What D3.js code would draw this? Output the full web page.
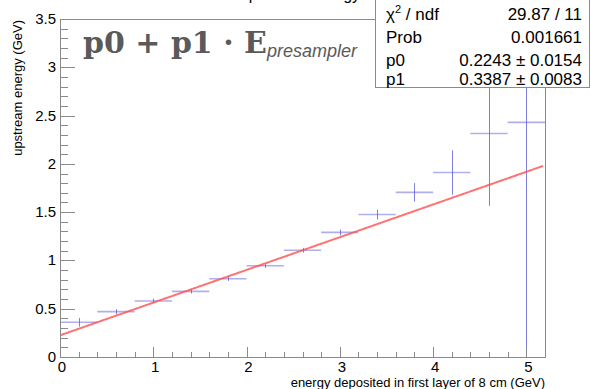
<!DOCTYPE html>
<html>
<head>
<meta charset="utf-8">
<script src="https://cdn.jsdelivr.net/npm/d3@7"></script>
<style>
  body { margin: 0; background: #fff; }
  svg { display: block; font-family: "Liberation Sans", Arial, sans-serif; }
</style>
</head>
<body>
<svg width="591" height="389"></svg>
<script>
// bin centres, contents and errors
var binCenters = [0.2, 0.6, 1.0, 1.4, 1.8, 2.2, 2.6, 3.0, 3.4, 3.8, 4.2, 4.6, 5.0];
var binValues = [0.36, 0.47, 0.58, 0.68, 0.81, 0.945, 1.105, 1.29, 1.475, 1.705, 1.91, 2.315, 2.43];
var binErrors = [0.045, 0.025, 0.024, 0.022, 0.022, 0.022, 0.025, 0.03, 0.05, 0.095, 0.23, 0.75, 2.6];
var binHalfWidth = 0.2;
var fitParams = [0.2243, 0.3387];
var xTickValues = [0, 1, 2, 3, 4, 5];
var yTickValues = [0, 0.5, 1, 1.5, 2, 2.5, 3, 3.5];
var statLabels = ['χ² / ndf', 'Prob', 'p0', 'p1'];
var statValues = ['29.87 / 11', '0.001661', '0.2243 ± 0.0154', '0.3387 ± 0.0083'];

var svg = d3.select('svg');
var padL = 60, padR = 545, padT = 19, padB = 357;

var xScale = d3.scaleLinear().domain([0, 5.2]).range([padL, padR]);
var yScale = d3.scaleLinear().domain([0, 3.5]).range([padB, padT]);

var frameColor = '#8a8a8a';

// title, mostly above the window
svg.append('text')
  .attr('x', 300).attr('y', 0)
  .attr('text-anchor', 'middle')
  .attr('font-size', 16)
  .text('upstream energy');

var plot = svg.append('g');
plot.append('clipPath').attr('id', 'clip')
  .append('rect').attr('x', padL).attr('y', padT).attr('width', padR - padL).attr('height', padB - padT);

// frame
svg.append('rect')
  .attr('x', padL + 0.5).attr('y', padT + 0.5)
  .attr('width', padR - padL).attr('height', padB - padT)
  .attr('fill', 'none').attr('stroke', frameColor);

// y ticks (ROOT style, inside)
var yMinor = d3.range(0, 3.5001, 0.1);
svg.selectAll('.ytick').data(yMinor).enter().append('line')
  .attr('x1', padL).attr('x2', function(d) {
    return Math.abs(d * 2 - Math.round(d * 2)) < 1e-6 ? padL + 15 : padL + 8;
  })
  .attr('y1', function(d) { return Math.round(yScale(d)) + 0.5; })
  .attr('y2', function(d) { return Math.round(yScale(d)) + 0.5; })
  .attr('stroke', frameColor);

svg.selectAll('.ylab').data(yTickValues).enter().append('text')
  .attr('x', 56)
  .attr('y', function(d) { return yScale(d) + 5; })
  .attr('text-anchor', 'end')
  .attr('font-size', 15)
  .text(function(d) { return d; });

// x ticks
var xMinor = d3.range(0, 5.2001, 0.2);
svg.selectAll('.xtick').data(xMinor).enter().append('line')
  .attr('x1', function(d) { return Math.round(xScale(d)) + 0.5; })
  .attr('x2', function(d) { return Math.round(xScale(d)) + 0.5; })
  .attr('y1', padB)
  .attr('y2', function(d) {
    return Math.abs(d - Math.round(d)) < 1e-6 ? padB - 10 : padB - 5;
  })
  .attr('stroke', frameColor);

svg.selectAll('.xlab').data(xTickValues).enter().append('text')
  .attr('x', function(d) { return xScale(d) + 2; })
  .attr('y', 372)
  .attr('text-anchor', 'middle')
  .attr('font-size', 15)
  .text(function(d) { return d; });

// axis titles
svg.append('text')
  .attr('x', padR).attr('y', 387)
  .attr('text-anchor', 'end')
  .attr('font-size', 13)
  .text('energy deposited in first layer of 8 cm (GeV)');

svg.append('text')
  .attr('transform', 'translate(22,' + (padT + 1) + ') rotate(-90)')
  .attr('text-anchor', 'end')
  .attr('font-size', 13)
  .text('upstream energy (GeV)');

// data error bars
var pts = plot.append('g').attr('clip-path', 'url(#clip)');
var blue = 'rgb(95,95,215)';
binCenters.forEach(function(c, i) {
  pts.append('line')
    .attr('x1', xScale(c - binHalfWidth)).attr('x2', xScale(c + binHalfWidth))
    .attr('y1', yScale(binValues[i])).attr('y2', yScale(binValues[i]))
    .attr('stroke', blue).attr('stroke-opacity', 0.5).attr('stroke-width', 1.6);
  pts.append('line')
    .attr('x1', Math.round(xScale(c)) + 0.5).attr('x2', Math.round(xScale(c)) + 0.5)
    .attr('y1', yScale(binValues[i] - binErrors[i])).attr('y2', yScale(binValues[i] + binErrors[i]))
    .attr('stroke', blue).attr('stroke-opacity', 0.8);
});

// fit line
var fitX = d3.range(0, 5.1801, 0.02);
var fitLine = d3.line()
  .x(function(d) { return xScale(d); })
  .y(function(d) { return yScale(fitParams[0] + fitParams[1] * d); });
pts.append('path')
  .datum(fitX)
  .attr('d', fitLine)
  .attr('fill', 'none')
  .attr('stroke', '#ff5050')
  .attr('stroke-opacity', 0.8)
  .attr('stroke-width', 2);

// formula label
var formula = svg.append('text')
  .attr('x', 83).attr('y', 53)
  .attr('fill', '#5a5a5a')
  .attr('xml:space', 'preserve');
formula.append('tspan')
  .attr('font-family', '"DejaVu Serif", "Liberation Serif", serif')
  .attr('font-weight', 'bold')
  .attr('font-size', 30)
  .text('p0 + p1 · E');
formula.append('tspan')
  .attr('dy', 4)
  .attr('font-style', 'italic')
  .attr('font-size', 18)
  .text('presampler');

// stats box
var box = svg.append('g');
box.append('rect')
  .attr('x', 375.5).attr('y', -0.5)
  .attr('width', 214).attr('height', 88)
  .attr('fill', '#fff').attr('stroke', frameColor);
var rowY = [20, 43, 66, 85];
statLabels.forEach(function(s, i) {
  var t = box.append('text')
    .attr('x', 386).attr('y', rowY[i])
    .attr('font-size', 17);
  if (i === 0) {
    t.append('tspan').text('χ');
    t.append('tspan').attr('font-size', 11).attr('dy', -7).text('2');
    t.append('tspan').attr('dy', 7).text(' / ndf');
  } else {
    t.text(s);
  }
  box.append('text')
    .attr('x', 582).attr('y', rowY[i])
    .attr('text-anchor', 'end')
    .attr('font-size', 17)
    .text(statValues[i]);
});
</script>
</body>
</html>
